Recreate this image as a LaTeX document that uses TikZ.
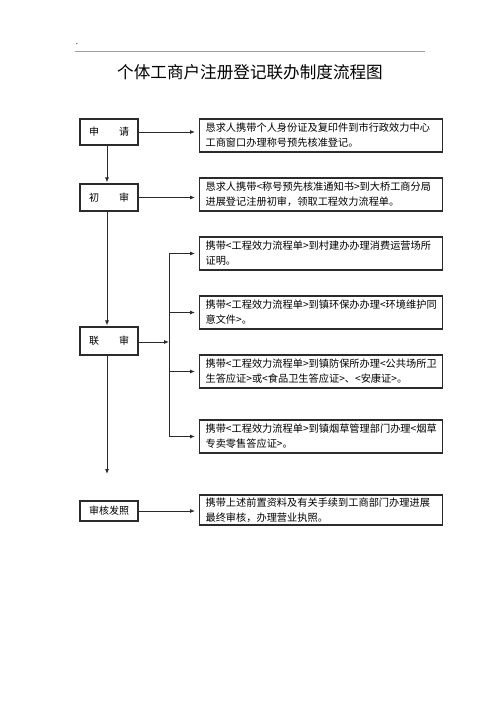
\documentclass[tikz,border=0pt]{standalone}
\usepackage{fontspec}
\setmainfont{Noto Sans CJK SC}
\usepackage{tikz}
\usetikzlibrary{
  arrows.meta,
  positioning
}
\definecolor{lnDark}{HTML}{2B2B2B}
\definecolor{ruleGray}{HTML}{A0A0A0}
\tikzset{
  stepbox/.style={
    draw=lnDark, line width=1.1pt, minimum width=58pt, minimum height=26pt,
    inner sep=0pt, font=\fontsize{10}{12}\selectfont
  },
  notebox/.style={
    draw=lnDark, line width=1.1pt, text width=231pt, minimum height=33pt,
    inner xsep=6pt, inner ysep=2pt, align=left, anchor=west,
    font=\fontsize{10.2}{15}\selectfont
  },
  link/.style={-{Latex[length=5pt,width=4pt]}, line width=0.8pt, lnDark},
  trunk/.style={line width=0.8pt, lnDark}
}

\begin{document}
\begin{tikzpicture}[x=1pt,y=-1pt]
  \useasboundingbox (0,0) rectangle (500,707);
  \node[font=\fontsize{8}{8}\selectfont, inner sep=0pt] (dot) at (77,44) {.};
  \draw[ruleGray, line width=1.3pt] (75,51.5) -- (425,51.5);
  \node[font=\fontsize{16.6}{18}\selectfont] (title) at (250,72) {个体工商户注册登记联办制度流程图};

  % steps on the left
  \node[stepbox] (sq) at (109,132) {申　　请};
  \node[stepbox, minimum height=27pt] (cs) at (109,197.5) {初　　审};
  \node[stepbox, minimum height=28pt] (ls) at (109,341) {联　　审};
  \node[stepbox, minimum height=20pt] (hz) at (109,511) {审核发照};

  % notes on the right
  \node[notebox] (r1) at (199,135.5) {恳求人携带个人身份证及复印件到市行政效力中心\\工商窗口办理称号预先核准登记。};
  \node[notebox] (r2) at (199,194.5) {恳求人携带<称号预先核准通知书>到大桥工商分局\\进展登记注册初审，领取工程效力流程单。};
  \node[notebox] (r3) at (199,253.5) {携带<工程效力流程单>到村建办办理消费运营场所\\证明。};
  \node[notebox] (r4) at (199,312.5) {携带<工程效力流程单>到镇环保办办理<环境维护同\\意文件>。};
  \node[notebox] (r5) at (199,371.5) {携带<工程效力流程单>到镇防保所办理<公共场所卫\\生答应证>或<食品卫生答应证>、<安康证>。};
  \node[notebox] (r6) at (199,436.5) {携带<工程效力流程单>到镇烟草管理部门办理<烟草\\专卖零售答应证>。};
  \node[notebox, minimum height=30pt] (r7) at (199,510) {携带上述前置资料及有关手续到工商部门办理进展\\最终审核，办理营业执照。};

  \coordinate (fork) at (169,342);
  \coordinate (gap) at (107,474);

  \draw[link, shorten >=4pt] (sq.east) -- (sq.east -| r1.west);
  \draw[link, shorten >=4pt] (cs.east) -- (cs.east -| r2.west);
  \draw[link, shorten >=4pt] (hz.east) -- (hz.east -| r7.west);
  \draw[link, shorten >=1pt] ([xshift=-2pt]sq.south) -- ([xshift=-2pt]cs.north);
  \draw[link, shorten >=1pt] ([xshift=-2pt]cs.south) -- ([xshift=-2pt]ls.north);
  \draw[link] ([xshift=-2pt]ls.south) -- (gap);
  \draw[link] (ls.east |- fork) -- (fork);
  \draw[trunk] (fork |- r3.west) -- (fork |- r6.west);
  \foreach \n in {r3,r4,r5,r6}
    \draw[link, shorten >=4pt] (fork |- \n.west) -- (\n.west);
\end{tikzpicture}
\end{document}
